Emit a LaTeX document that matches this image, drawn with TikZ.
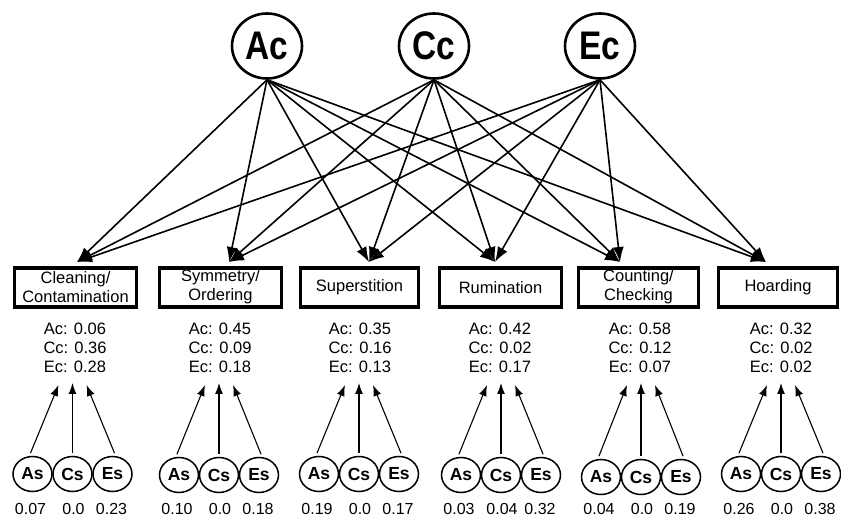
\documentclass[tikz,border=0pt]{standalone}
\usepackage{fontspec}
\setmainfont{Liberation Sans}
\usetikzlibrary{arrows.meta,shapes.geometric}
\begin{document}
\begin{tikzpicture}[x=1pt,y=-1pt,
  latent/.style={draw,ellipse,line width=2.6pt,minimum width=70,minimum height=65,inner sep=0pt,
    font=\fontsize{38}{40}\selectfont\bfseries},
  factor/.style={draw,rectangle,line width=3.3pt,minimum height=39,inner sep=0pt,align=center,
    font=\fontsize{16.5}{19}\selectfont},
  vals/.style={align=center,inner sep=0pt,font=\fontsize{16.5}{19}\selectfont},
  small/.style={draw,ellipse,line width=1.5pt,minimum width=39,minimum height=35,inner sep=0pt,
    font=\fontsize{17.5}{18}\selectfont\bfseries},
  num/.style={inner sep=0pt,font=\fontsize{16}{18}\selectfont},
  tarrow/.style={line width=1.6pt,-{Latex[length=15,width=11]}},
  barrow/.style={line width=1.1pt,shorten <=3pt,-{Latex[length=11,width=8]}}]
\useasboundingbox (0,0) rectangle (841,518);

% top latent factors
\node[latent] (Ac) at (267,46) {\scalebox{0.88}[1.05]{Ac}};
\node[latent] (Cc) at (434,46) {\scalebox{0.88}[1.05]{Cc}};
\node[latent] (Ec) at (600,46) {\scalebox{0.88}[1.05]{Ec}};

% arrow targets above boxes
\coordinate (T1) at (77,262);
\coordinate (T2) at (229,262);
\coordinate (T3) at (369,262);
\coordinate (T4) at (495,262);
\coordinate (T5) at (620,262);
\coordinate (T6) at (766,262);

\foreach \s in {Ac,Cc,Ec}
  \foreach \t in {1,...,6}
    \draw[tarrow] (\s.south) -- (T\t);

% symptom boxes
\node[factor,minimum width=122] (B1) at (75.5,287.5) {Cleaning/\\Contamination};
\node[factor,minimum width=122] (B2) at (220.5,287.5) {\raisebox{2pt}{\begin{tabular}{@{}c@{}}Symmetry/\\Ordering\end{tabular}}};
\node[factor,minimum width=118] (B3) at (359.5,287.5) {Superstition};
\node[factor,minimum width=122] (B4) at (500.5,287.5) {Rumination};
\node[factor,minimum width=120] (B5) at (638.5,287.5) {\raisebox{3pt}{\begin{tabular}{@{}c@{}}Counting/\\Checking\end{tabular}}};
\node[factor,minimum width=119] (B6) at (778,287.5) {Hoarding};

% values
\node[vals] (V1) at (75,348) {Ac: 0.06\\Cc: 0.36\\Ec: 0.28};
\node[vals] (V2) at (220,348) {Ac: 0.45\\Cc: 0.09\\Ec: 0.18};
\node[vals] (V3) at (360,348) {Ac: 0.35\\Cc: 0.16\\Ec: 0.13};
\node[vals] (V4) at (500,348) {Ac: 0.42\\Cc: 0.02\\Ec: 0.17};
\node[vals] (V5) at (640,348) {Ac: 0.58\\Cc: 0.12\\Ec: 0.07};
\node[vals] (V6) at (781,348) {Ac: 0.32\\Cc: 0.02\\Ec: 0.02};

% specific factors
\foreach \i/\c/\dy/\na/\nc/\ne in {
  1/72.5/0/0.07/0.0/0.23,
  2/219/1/0.10/0.0/0.18,
  3/359/0/0.19/0.0/0.17,
  4/501/1/0.03/0.04/0.32,
  5/641/3/0.04/0.0/0.19,
  6/781/0/0.26/0.0/0.38}{
  \node[small] (As\i) at (\c-40,474+\dy) {As};
  \node[small] (Cs\i) at (\c,474+\dy) {Cs};
  \node[small] (Es\i) at (\c+40,474+\dy) {Es};
  \node[num] (na\i) at (\c-42,509) {\na};
  \node[num] (nc\i) at (\c+1,509) {\nc};
  \node[num] (ne\i) at (\c+39,509) {\ne};
  \coordinate (pa\i) at (\c-14,385);
  \coordinate (pc\i) at (\c,383);
  \coordinate (pe\i) at (\c+14,385);
  \draw[barrow] (As\i.100) -- (pa\i);
  \draw[barrow] (Cs\i.north) -- (pc\i);
  \draw[barrow] (Es\i.80) -- (pe\i);
}
\end{tikzpicture}
\end{document}
